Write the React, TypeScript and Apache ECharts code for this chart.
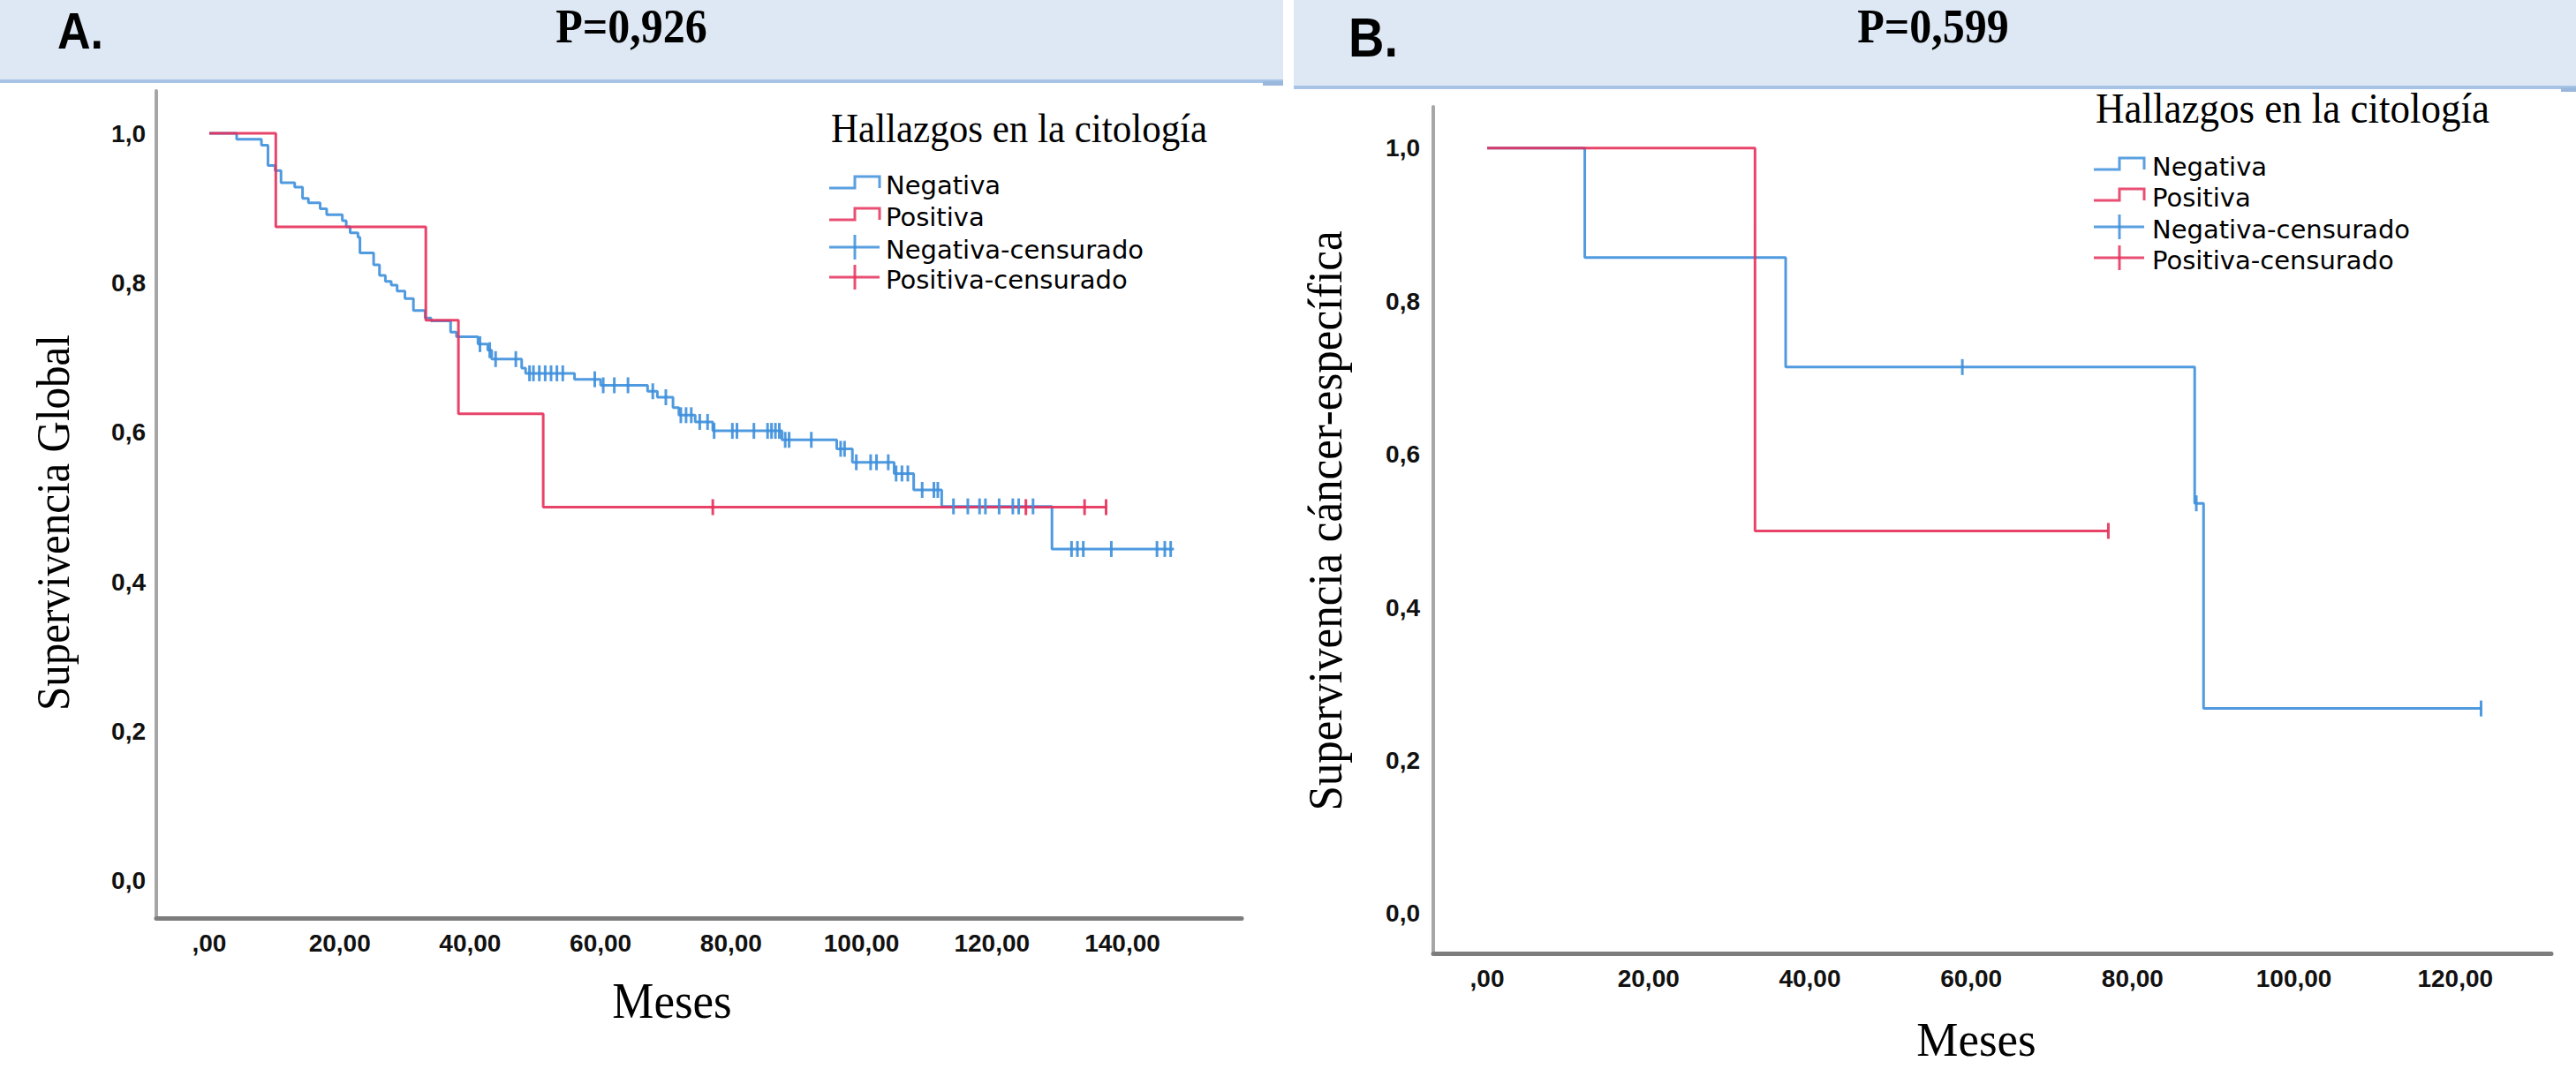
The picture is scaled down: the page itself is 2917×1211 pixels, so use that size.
import React, { useEffect, useRef } from "react";
import * as echarts from "echarts";

const W = 2917;
const H = 1211;

const xTicksA = [0, 20, 40, 60, 80, 100, 120, 140];
const xTicksB = [0, 20, 40, 60, 80, 100, 120];
const yTicks = [0, 0.2, 0.4, 0.6, 0.8, 1.0];

// Panel A – Supervivencia Global
const negA: [number, number][] = [
  [0, 1], [4.2, 0.992], [8.0, 0.984], [9.0, 0.957], [10.1, 0.95], [11.0, 0.934],
  [13.1, 0.928], [14.3, 0.913], [15.2, 0.907], [17.0, 0.899], [18.0, 0.891],
  [20.4, 0.883], [21.0, 0.875], [21.6, 0.867], [22.8, 0.861], [23.1, 0.84],
  [25.2, 0.824], [26.1, 0.81], [27.0, 0.802], [27.9, 0.797], [28.8, 0.789],
  [30.0, 0.779], [31.3, 0.763], [33.1, 0.753], [34.0, 0.749], [37.0, 0.734],
  [37.9, 0.728], [41.2, 0.718], [42.7, 0.71], [43.3, 0.698], [47.9, 0.686],
  [48.5, 0.679], [56.0, 0.671], [60.0, 0.663], [67.2, 0.655], [68.7, 0.647],
  [71.1, 0.633], [72.0, 0.623], [74.5, 0.614], [77.2, 0.602], [87.8, 0.59],
  [96.2, 0.578], [98.6, 0.56], [105.0, 0.545], [108.0, 0.523], [112.3, 0.501],
  [129.2, 0.444], [147.9, 0.444],
];
const negACens = [
  41.5, 43.0, 43.9, 47.0, 49.1, 49.7, 50.6, 51.5, 52.4, 53.3, 54.2, 59.1, 60.4,
  62.1, 64.2, 68.0, 70.0, 72.3, 73.1, 73.9, 75.2, 76.4, 77.4, 80.2, 80.9, 83.5,
  85.6, 86.2, 86.8, 87.4, 88.3, 88.9, 92.3, 96.8, 97.4, 99.2, 101.4, 102.3,
  104.1, 105.3, 106.2, 107.1, 109.3, 111.1, 111.7, 114.1, 116.3, 118.1, 119.0,
  121.1, 123.2, 124.1, 126.3, 132.2, 133.1, 134.0, 138.3, 145.3, 146.5, 147.4,
];
const posA: [number, number][] = [
  [0, 1], [10.2, 0.875], [33.2, 0.75], [38.2, 0.625], [51.2, 0.5], [137.5, 0.5],
];
const posACens = [77.2, 125.2, 134.2, 137.5];

// Panel B – Supervivencia cáncer-específica
const negB: [number, number][] = [
  [0, 1], [12.1, 0.857], [37.0, 0.714], [87.7, 0.536], [88.8, 0.268], [123.2, 0.268],
];
const negBCens = [58.9, 87.9, 123.2];
const posB: [number, number][] = [[0, 1], [33.2, 0.5], [77.0, 0.5]];
const posBCens = [77.0];

const legendLabels = ["Negativa", "Positiva", "Negativa-censurado", "Positiva-censurado"];

const BLUE = "#3d8fdb";
const RED = "#e5305a";
const SANS = '"Liberation Sans", Arial, sans-serif';
const SERIF = '"Liberation Serif", "Times New Roman", serif';
const LEG = '"DejaVu Sans", "Liberation Sans", sans-serif';

function valueAt(steps: [number, number][], t: number) {
  let v = steps[0][1];
  for (const [x, y] of steps) if (x <= t) v = y;
  return v;
}

function fmtX(v: number) {
  if (v === 0) return ",00";
  return v.toFixed(2).replace(".", ",");
}
function fmtY(v: number) {
  return v.toFixed(1).replace(".", ",");
}

function legendBlock(x0: number, titleY: number, rows: number[], textX: number, titleSize: number, textSize: number) {
  const els: any[] = [];
  const x1 = x0 + 29;
  const x2 = x0 + 57;
  els.push({
    type: "text", x: x0 + 2, y: titleY, scaleY: 1.06,
    style: { text: "Hallazgos en la citología", font: `${titleSize}px ${SERIF}`, fill: "#000", textAlign: "left", textVerticalAlign: "middle" },
  });
  const colors = [BLUE, RED, BLUE, RED];
  rows.forEach((ry, i) => {
    const c = colors[i];
    if (i < 2) {
      els.push({
        type: "polyline",
        shape: { points: [[x0, ry + 3], [x1, ry + 3], [x1, ry - 10], [x2, ry - 10], [x2, ry + 3]] },
        style: { stroke: c, lineWidth: 3, fill: null, opacity: 0.85 },
      });
    } else {
      els.push({ type: "line", shape: { x1: x0, y1: ry - 3, x2: x2, y2: ry - 3 }, style: { stroke: c, lineWidth: 3, opacity: 0.85 } });
      els.push({ type: "line", shape: { x1: x1, y1: ry - 17, x2: x1, y2: ry + 11 }, style: { stroke: c, lineWidth: 3, opacity: 0.85 } });
    }
    els.push({
      type: "text", x: textX, y: ry,
      style: { text: legendLabels[i], font: `${textSize}px ${LEG}`, fill: "#000", textAlign: "left", textVerticalAlign: "middle" },
    });
  });
  return els;
}

export default function App() {
  const ref = useRef<HTMLDivElement>(null);
  useEffect(() => {
    document.body.style.margin = "0";
    if (!ref.current) return;
    const chart = echarts.init(ref.current, undefined, { renderer: "svg", width: W, height: H });

    const xAxisCommon = (ticks: number[], min: number, max: number, gridIndex: number) => ({
      type: "value", gridIndex, min, max,
      axisLine: { show: true, onZero: false, lineStyle: { color: "#7d7d7d", width: 5 } },
      axisTick: { show: false },
      splitLine: { show: false },
      axisLabel: {
        customValues: ticks, formatter: (v: number) => fmtX(v),
        fontFamily: SANS, fontWeight: "bold", fontSize: 28, color: "#111", margin: 14,
      },
    });
    const yAxisCommon = (min: number, max: number, gridIndex: number, margin: number) => ({
      type: "value", gridIndex, min, max,
      axisLine: { show: true, onZero: false, lineStyle: { color: "#a6a6a6", width: 4 } },
      axisTick: { show: false },
      splitLine: { show: false },
      axisLabel: {
        customValues: yTicks, formatter: (v: number) => fmtY(v),
        fontFamily: SANS, fontWeight: "bold", fontSize: 28, color: "#111", margin,
      },
    });

    const stepSeries = (data: [number, number][], color: string, idx: number, z: number) => ({
      type: "line", xAxisIndex: idx, yAxisIndex: idx, step: "end", data,
      showSymbol: false, symbol: "none", z,
      lineStyle: { color, width: 3, opacity: 0.9 },
      silent: true,
    });
    const censSeries = (times: number[], steps: [number, number][], color: string, idx: number, z: number) => ({
      type: "scatter", xAxisIndex: idx, yAxisIndex: idx,
      data: times.map((t) => [t, valueAt(steps, t)]),
      symbol: "rect", symbolSize: [3, 18], z,
      itemStyle: { color, opacity: 0.9 },
      silent: true,
    });

    const graphic: any[] = [
      { type: "rect", shape: { x: 0, y: 0, width: 1453, height: 90 }, style: { fill: "#dde8f4" } },
      { type: "rect", shape: { x: 0, y: 90, width: 1453, height: 4 }, style: { fill: "#a7c4e6" } },
      { type: "rect", shape: { x: 1430, y: 92, width: 23, height: 5 }, style: { fill: "#9ab8dc" } },
      { type: "rect", shape: { x: 1465, y: 0, width: 1452, height: 97 }, style: { fill: "#dde8f4" } },
      { type: "rect", shape: { x: 1465, y: 97, width: 1452, height: 4 }, style: { fill: "#a7c4e6" } },
      { type: "rect", shape: { x: 2900, y: 99, width: 17, height: 5 }, style: { fill: "#9ab8dc" } },
      { type: "text", x: 65, y: 35, scaleY: 1.12, style: { text: "A.", font: `bold 52px ${SANS}`, fill: "#000", textAlign: "left", textVerticalAlign: "middle" } },
      { type: "text", x: 715, y: 30, scaleY: 1.08, style: { text: "P=0,926", font: `bold 50px ${SERIF}`, fill: "#000", textAlign: "center", textVerticalAlign: "middle" } },
      { type: "text", x: 1527, y: 42, scaleY: 1.12, style: { text: "B.", font: `bold 56px ${SANS}`, fill: "#000", textAlign: "left", textVerticalAlign: "middle" } },
      { type: "text", x: 2189, y: 30, scaleY: 1.08, style: { text: "P=0,599", font: `bold 50px ${SERIF}`, fill: "#000", textAlign: "center", textVerticalAlign: "middle" } },
      { type: "text", x: 761, y: 1134, scaleY: 1.08, style: { text: "Meses", font: `53px ${SERIF}`, fill: "#000", textAlign: "center", textVerticalAlign: "middle" } },
      { type: "text", x: 2238, y: 1178, scaleY: 1.05, style: { text: "Meses", font: `53px ${SERIF}`, fill: "#000", textAlign: "center", textVerticalAlign: "middle" } },
      { type: "text", x: 60, y: 592, rotation: Math.PI / 2, scaleY: 1.08, style: { text: "Supervivencia Global", font: `49px ${SERIF}`, fill: "#000", textAlign: "center", textVerticalAlign: "middle" } },
      { type: "text", x: 1500, y: 590, rotation: Math.PI / 2, scaleY: 1.06, style: { text: "Supervivencia cáncer-específica", font: `51px ${SERIF}`, fill: "#000", textAlign: "center", textVerticalAlign: "middle" } },
      ...legendBlock(939, 146, [210, 246, 283, 317], 1003, 43, 29),
      ...legendBlock(2371, 123, [189, 224, 260, 295], 2437, 45, 29),
    ];

    chart.setOption({
      animation: false,
      backgroundColor: "#ffffff",
      grid: [
        { left: 177, top: 103, width: 1229, height: 937 },
        { left: 1623, top: 121, width: 1266, height: 959 },
      ],
      xAxis: [xAxisCommon(xTicksA, -8.12, 158.28, 0), xAxisCommon(xTicksB, -6.68, 131.9, 1)],
      yAxis: [yAxisCommon(-0.0496, 1.0567, 0, 12), yAxisCommon(-0.0519, 1.054, 1, 15)],
      series: [
        stepSeries(negA, BLUE, 0, 2),
        stepSeries(posA, RED, 0, 3),
        censSeries(negACens, negA, BLUE, 0, 4),
        censSeries(posACens, posA, RED, 0, 5),
        stepSeries(negB, BLUE, 1, 2),
        stepSeries(posB, RED, 1, 3),
        censSeries(negBCens, negB, BLUE, 1, 4),
        censSeries(posBCens, posB, RED, 1, 5),
      ],
      graphic,
    });
    return () => chart.dispose();
  }, []);
  return <div ref={ref} style={{ width: W, height: H }} />;
}
